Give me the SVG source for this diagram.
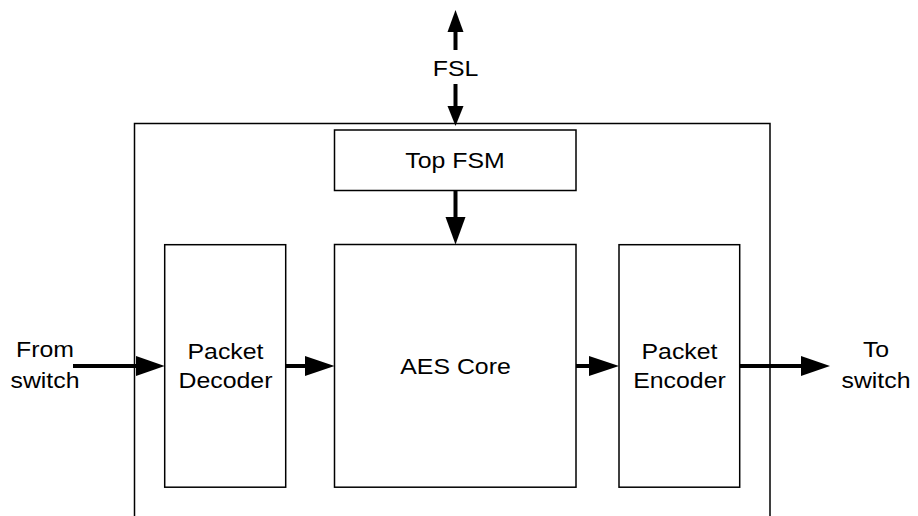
<svg xmlns="http://www.w3.org/2000/svg" width="918" height="516" viewBox="0 0 918 516">
  <style>
    .box { fill: #fff; stroke: #000; stroke-width: 1.5; }
    .frame { fill: none; stroke: #000; stroke-width: 1.5; }
    .shaft { fill: none; stroke: #000; stroke-width: 4; }
    .head { fill: #000; stroke: none; }
    .lbl { font-family: "Liberation Sans", Arial, sans-serif; font-size: 22px; fill: #000; text-anchor: middle; }
  </style>
  <rect width="918" height="516" fill="#fff"/>

  <!-- enclosing module boundary, open at the bottom -->
  <path id="module" class="frame" d="M134.5,516 V123.5 H770 V516"/>

  <g id="top-fsm">
    <rect class="box" x="334.5" y="130" width="241.5" height="60.5"/>
    <text class="lbl" transform="translate(455,168) scale(1.13,1)">Top FSM</text>
  </g>

  <g id="packet-decoder">
    <rect class="box" x="164.7" y="244.7" width="121" height="242.5"/>
    <text class="lbl" transform="translate(225.5,358.5) scale(1.13,1)">Packet</text>
    <text class="lbl" transform="translate(225.5,388) scale(1.13,1)">Decoder</text>
  </g>

  <g id="aes-core">
    <rect class="box" x="334.5" y="244.5" width="241.5" height="242.7"/>
    <text class="lbl" transform="translate(455.5,374) scale(1.13,1)">AES Core</text>
  </g>

  <g id="packet-encoder">
    <rect class="box" x="619" y="244.7" width="120.7" height="242.5"/>
    <text class="lbl" transform="translate(679.5,358.5) scale(1.13,1)">Packet</text>
    <text class="lbl" transform="translate(679.5,388) scale(1.13,1)">Encoder</text>
  </g>

  <g id="port-labels">
    <text class="lbl" transform="translate(455.5,76) scale(1.13,1)">FSL</text>
    <text class="lbl" transform="translate(45,357) scale(1.13,1)">From</text>
    <text class="lbl" transform="translate(45,388) scale(1.13,1)">switch</text>
    <text class="lbl" transform="translate(876,357) scale(1.13,1)">To</text>
    <text class="lbl" transform="translate(876,388) scale(1.13,1)">switch</text>
  </g>

  <g id="connectors">
    <!-- FSL bus, bidirectional -->
    <path class="shaft" d="M455.5,31 V50"/>
    <polygon class="head" points="455.5,10 463.5,32 447.5,32"/>
    <path class="shaft" d="M455.5,84 V107"/>
    <polygon class="head" points="455.5,126 463.5,106 447.5,106"/>
    <!-- Top FSM to AES core -->
    <path class="shaft" d="M455.5,190.5 V218"/>
    <polygon class="head" points="455.5,244.5 465.5,217 445.5,217"/>
    <!-- data path -->
    <path class="shaft" d="M73,366 H137"/>
    <polygon class="head" points="164.7,366 136,356 136,376"/>
    <path class="shaft" d="M285.7,366 H306"/>
    <polygon class="head" points="334.5,366 305,356 305,376"/>
    <path class="shaft" d="M576,366 H590"/>
    <polygon class="head" points="619,366 589,356 589,376"/>
    <path class="shaft" d="M739.7,366 H802"/>
    <polygon class="head" points="830,366 801,356 801,376"/>
  </g>
</svg>
